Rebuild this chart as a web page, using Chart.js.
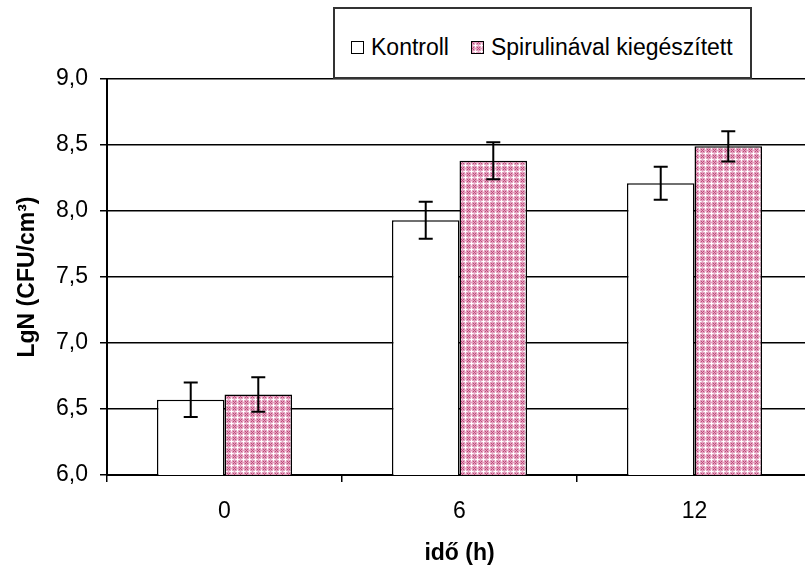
<!DOCTYPE html>
<html>
<head>
<meta charset="utf-8">
<script src="https://cdn.jsdelivr.net/npm/chart.js@4.4.1/dist/chart.umd.min.js"></script>
<style>
  html, body { margin: 0; padding: 0; background: #fff; overflow: hidden; }
  #wrap { position: absolute; left: 0; top: 0; width: 812px; height: 572px; }
  #legend {
    position: absolute; left: 333px; top: 7px; width: 419px; height: 72px;
    border: 2px solid #333; background: #fff;
    font-family: "Liberation Sans", Arial, sans-serif; font-size: 23px; color: #000;
    display: flex; align-items: center; padding-left: 16px; padding-top: 8px; box-sizing: border-box;
    white-space: nowrap; overflow: visible;
  }
  #legend .sw { display: inline-block; width: 11px; height: 11px; border: 1.5px solid #000; margin-right: 7px; flex-shrink: 0; }
  #legend .item { display: flex; align-items: center; margin-right: 22px; flex-shrink: 0; white-space: nowrap; }
</style>
</head>
<body>
<div id="wrap">
  <canvas id="chart" width="812" height="572"></canvas>
  <div id="legend">
    <span class="item"><span class="sw" style="background:#fff"></span>Kontroll</span>
    <span class="item"><canvas class="sw" id="swatch" width="11" height="11" style="padding:0"></canvas>Spirulinával kiegészített</span>
  </div>
</div>
<script>
// chart data
const categories = ['0', '6', '12'];
const seriesNames = ['Kontroll', 'Spirulinával kiegészített'];
const kontroll = [6.57, 7.93, 8.21];
const kontrollErr = [0.13, 0.14, 0.125];
const spirulina = [6.61, 8.38, 8.49];
const spirulinaErr = [0.13, 0.14, 0.115];

// pink crosshatch pattern
function makePattern(ctx) {
  const tile = document.createElement('canvas');
  tile.width = 6; tile.height = 6;
  const t = tile.getContext('2d');
  t.fillStyle = '#e3a2bf';
  t.fillRect(0, 0, 6, 6);
  t.fillStyle = '#ffffff';
  t.fillRect(2, 3, 3, 1);
  t.fillRect(3, 2, 1, 3);
  t.fillStyle = '#f6dde8';
  t.fillRect(1, 3, 1, 1);
  t.fillRect(5, 3, 1, 1);
  t.fillRect(3, 1, 1, 1);
  t.fillRect(3, 5, 1, 1);
  t.fillStyle = '#c04a7b';
  t.fillRect(0, 0, 1, 1);
  t.fillRect(1, 1, 1, 1);
  t.fillRect(5, 5, 1, 1);
  t.fillRect(5, 1, 1, 1);
  t.fillRect(1, 5, 1, 1);
  return ctx.createPattern(tile, 'repeat');
}

const ctx = document.getElementById('chart').getContext('2d');
const pinkPattern = makePattern(ctx);

// legend swatch
const sw = document.getElementById('swatch').getContext('2d');
sw.fillStyle = makePattern(sw);
sw.fillRect(0, 0, 11, 11);

// error bars drawn through the y scale
const errorBars = {
  id: 'errorBars',
  afterDatasetsDraw(chart) {
    const c = chart.ctx;
    const y = chart.scales.y;
    const errs = [kontrollErr, spirulinaErr];
    c.save();
    c.strokeStyle = '#000';
    c.lineWidth = 2;
    chart.data.datasets.forEach((ds, i) => {
      const meta = chart.getDatasetMeta(i);
      meta.data.forEach((bar, j) => {
        const v = ds.data[j];
        const top = y.getPixelForValue(v + errs[i][j]);
        const bot = y.getPixelForValue(v - errs[i][j]);
        const x = bar.x;
        c.beginPath();
        c.moveTo(x, top); c.lineTo(x, bot);
        c.moveTo(x - 7, top); c.lineTo(x + 7, top);
        c.moveTo(x - 7, bot); c.lineTo(x + 7, bot);
        c.stroke();
      });
    });
    c.restore();
  }
};

const fontFam = '"Liberation Sans", Arial, sans-serif';

new Chart(ctx, {
  type: 'bar',
  data: {
    labels: categories,
    datasets: [
      {
        label: seriesNames[0],
        data: kontroll,
        backgroundColor: '#ffffff',
        borderColor: '#000',
        borderWidth: 1.5,
        categoryPercentage: 0.575,
        barPercentage: 1
      },
      {
        label: seriesNames[1],
        data: spirulina,
        backgroundColor: pinkPattern,
        borderColor: '#000',
        borderWidth: 1.5,
        categoryPercentage: 0.575,
        barPercentage: 1
      }
    ]
  },
  options: {
    responsive: false,
    animation: false,
    layout: { padding: { top: 79, left: 0, right: 0, bottom: 0 } },
    plugins: {
      legend: { display: false },
      tooltip: { enabled: false }
    },
    scales: {
      x: {
        afterFit: s => { s.height = 97; },
        grid: { drawOnChartArea: false, drawTicks: true, tickLength: 7, color: '#000', lineWidth: 1.5 },
        border: { color: '#000', width: 2 },
        ticks: { color: '#000', font: { family: fontFam, size: 23 }, padding: 16 },
        title: {
          display: true, text: 'idő (h)', color: '#000',
          font: { family: fontFam, size: 23, weight: 'bold' },
          padding: { top: 0, bottom: 5 }
        }
      },
      y: {
        min: 6, max: 9,
        afterFit: s => { s.width = 107; },
        grid: { color: '#000', lineWidth: 1.5, tickLength: 7 },
        border: { color: '#000', width: 2 },
        ticks: {
          stepSize: 0.5, color: '#000', padding: 12,
          font: { family: fontFam, size: 23 },
          callback: v => v.toFixed(1).replace('.', ',')
        },
        title: {
          display: true, text: 'LgN (CFU/cm³)', color: '#000',
          font: { family: fontFam, size: 23, weight: 'bold' },
          padding: { top: 14, bottom: 0 }
        }
      }
    }
  },
  plugins: [errorBars]
});
</script>
</body>
</html>
